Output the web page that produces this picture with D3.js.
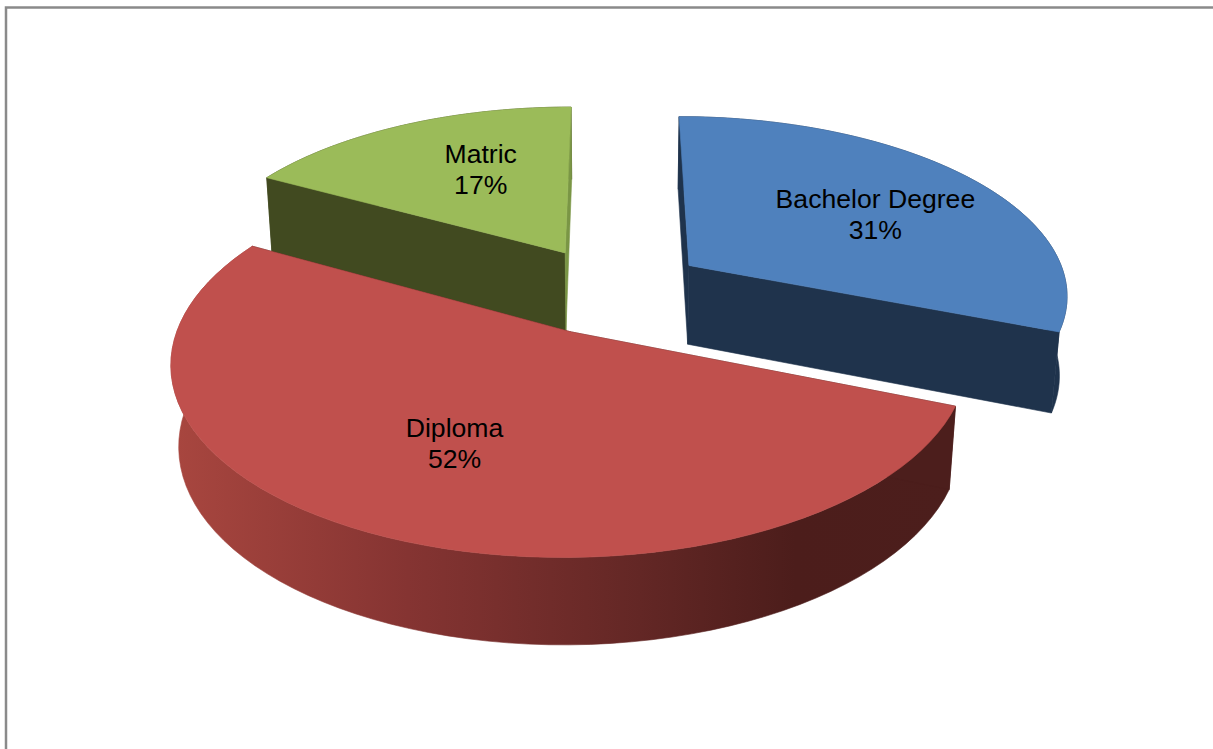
<!DOCTYPE html>
<html>
<head>
<meta charset="utf-8">
<script src="https://cdn.jsdelivr.net/npm/d3@7/dist/d3.min.js"></script>
<style>
  html, body { margin: 0; padding: 0; background: #fff; overflow: hidden; }
  text { font-family: "Liberation Sans", Arial, sans-serif; fill: #000; }
</style>
</head>
<body>
<svg id="chart" width="1213" height="749"></svg>
<script>
// Education level shares
const categories = ["Bachelor Degree", "Diploma", "Matric"];
const shares = [31, 52, 17];
const topColors = ["#4f81bd", "#c0504d", "#9bbb59"];
const cutColors = ["#1f334c", "#4c1e1c", "#414a20"];
const rearCutColors = ["#1f334c", "#4c1e1c", "#7a9645"];
const wallStops = [
  [0, "#a8463f"], [0.3, "#853432"], [0.6, "#632725"], [0.8, "#4c1d1b"], [1, "#4c1e1c"]
];

// Camera and pie body
const view = {
  cx: 612, cy: 290,      // screen position of the pie axis
  k: 380, kb: 178,       // horizontal and depth scale
  persp: 0.15,           // perspective strength along depth
  lift: 82,              // thickness of the pie
  sinkX: 0.017,          // horizontal shrink of the bottom face
  sinkY: 0.03,           // vertical shrink of the bottom face
  explode: 0.25          // how far slices are pulled from the axis
};

const svg = d3.select("#chart");

// Chart frame: only top and left edges fall inside the page
svg.append("path")
  .attr("d", "M6,749V7.5H1213")
  .attr("fill", "none")
  .attr("stroke", "#8a8a8a")
  .attr("stroke-width", 2.5);

// Ground-plane point (x right, y toward viewer) to screen, on top or bottom face
function project(x, y, bottom) {
  const w = 1 - view.persp * y;
  const wx = w + (bottom ? view.sinkX : 0);
  const wy = w + (bottom ? view.sinkY : 0);
  return [
    view.cx + view.k * x / wx,
    view.cy + (view.kb * y + (bottom ? view.lift : 0)) / wy
  ];
}

const polar = (a, r) => [r * Math.sin(a), -r * Math.cos(a)];
const line = d3.line();

const arcs = d3.pie().sort(null).value(d => d)(shares);

const defs = svg.append("defs");
const wallGrad = defs.append("linearGradient")
  .attr("id", "wallShade")
  .attr("gradientUnits", "userSpaceOnUse")
  .attr("x1", 175).attr("y1", 0)
  .attr("x2", 950).attr("y2", 0);
wallStops.forEach(([o, c]) => wallGrad.append("stop").attr("offset", o).attr("stop-color", c));

// Slice shapes in painter's order: rear slices first, Diploma in front
const drawOrder = [2, 0, 1];

// Filled face with a hairline of its own colour so neighbouring faces leave no seam
function face(g, pts, fill) {
  g.append("path")
    .attr("d", line(pts) + "Z")
    .attr("fill", fill)
    .attr("stroke", fill)
    .attr("stroke-width", 0.6)
    .attr("stroke-linejoin", "round");
}

drawOrder.forEach(i => {
  const d = arcs[i];
  const mid = (d.startAngle + d.endAngle) / 2;
  const [ox, oy] = polar(mid, view.explode);

  const angles = d3.range(0, 73).map(t => d.startAngle + (d.endAngle - d.startAngle) * t / 72);
  const rim = bottom => angles.map(a => {
    const [x, y] = polar(a, 1);
    return project(ox + x, oy + y, bottom);
  });
  const apex = bottom => project(ox, oy, bottom);

  const g = svg.append("g").attr("class", "slice");
  const topRim = rim(false), lowRim = rim(true);

  // Outer wall
  face(g, topRim.concat(lowRim.slice().reverse()), i === 1 ? "url(#wallShade)" : cutColors[i]);

  // Radial cut faces
  face(g, [apex(false), topRim[0], lowRim[0], apex(true)], cutColors[i]);
  face(g, [apex(false), topRim[72], lowRim[72], apex(true)], i === 2 ? rearCutColors[i] : cutColors[i]);

  // Top face
  face(g, [apex(false)].concat(topRim), topColors[i]);
});

// Data labels, placed along each slice's bisector
const labelReach = [0.65, 0.6, 0.5];
const labelNudge = [[0.5, 10], [-2, 0], [1, -14]];
const total = d3.sum(shares);
const pct = d3.format(".0%");

arcs.forEach((d, i) => {
  const mid = (d.startAngle + d.endAngle) / 2;
  const [ox, oy] = polar(mid, view.explode);
  const [x, y] = polar(mid, labelReach[i]);
  const [px, py] = project(ox + x, oy + y, false);
  const t = svg.append("text")
    .attr("text-anchor", "middle")
    .attr("font-size", 26.6);
  t.append("tspan")
    .attr("x", px + labelNudge[i][0])
    .attr("y", py + labelNudge[i][1] - 8)
    .text(categories[i]);
  t.append("tspan")
    .attr("x", px + labelNudge[i][0])
    .attr("y", py + labelNudge[i][1] + 23)
    .text(pct(shares[i] / total));
});
</script>
</body>
</html>
